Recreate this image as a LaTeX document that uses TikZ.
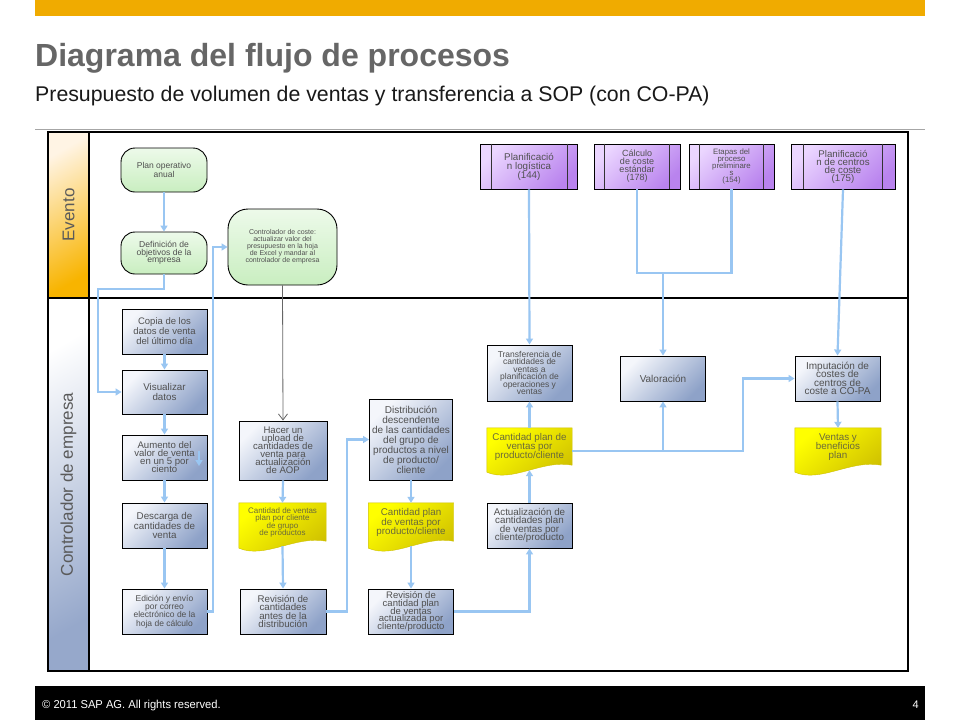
\documentclass[tikz,border=0pt]{standalone}
\usepackage{fontspec}
\setmainfont{Liberation Sans}
\usepackage{graphicx}
\usetikzlibrary{arrows.meta,calc}
\pgfdeclarelayer{bg}
\pgfsetlayers{bg,main}
\definecolor{sapor}{HTML}{F0AB00}
\definecolor{flowc}{HTML}{99C6F2}
\definecolor{txt}{HTML}{505050}
\definecolor{procL}{HTML}{F4F6FB}
\definecolor{procD}{HTML}{8EA2C8}
\definecolor{grL}{HTML}{EDFAEA}
\definecolor{grD}{HTML}{C9EEC0}
\definecolor{puL}{HTML}{EBD6FF}
\definecolor{puD}{HTML}{B983EE}
\definecolor{puS}{HTML}{C89CF2}
\definecolor{yeL}{HTML}{FFFF00}
\definecolor{yeD}{HTML}{CFC000}
\definecolor{docT}{HTML}{6A6A3A}
\definecolor{evL}{HTML}{FFF4E4}
\definecolor{evD}{HTML}{F8B400}
\definecolor{ctL}{HTML}{FFFFFF}
\definecolor{ctD}{HTML}{96A8CB}
\definecolor{lanetxt}{HTML}{5A5A5A}
\definecolor{titgray}{HTML}{666666}
\tikzset{
  every node/.append style={execute at begin node={\lineskiplimit=-20pt\lineskip=0pt}},
  box/.style 2 args={minimum width=#1pt,minimum height=#2pt,inner sep=0pt,align=center},
  proc/.style={draw=black,line width=0.9pt,top color=procL,bottom color=procD,shading angle=45,text=txt},
  ev/.style={draw=black,line width=0.9pt,rounded corners=14pt,top color=grL,bottom color=grD,text=txt},
  pp/.style={draw=black,line width=0.9pt,top color=puL,bottom color=puD,shading angle=45,text=txt},
  doc/.style={text=docT},
  docfill/.style={top color=yeL,bottom color=yeD,shading angle=40,draw=yeD,line width=0.4pt},
  flow/.style={draw=flowc,line width=2.2pt,-{Triangle[width=7pt,length=6pt]}},
  flowl/.style={draw=flowc,line width=2.2pt},
  garr/.style={draw=gray!80!black,line width=0.8pt,-{Straight Barb[width=9pt,length=6pt]}},
  frame/.style={draw=black,line width=2pt},
}
\newcommand\docshape[1]{%
  \begin{pgfonlayer}{bg}
  \path[docfill] (#1.north west) -- (#1.north east) -- ($(#1.south east)+(0,1pt)$)
    .. controls ($(#1.south west)!0.65!(#1.south east)+(0,7pt)$) and ($(#1.south west)!0.3!(#1.south east)+(0,-17pt)$)
    .. ($(#1.south west)+(0,-6pt)$) -- cycle;
  \end{pgfonlayer}}
\newcommand\ppl[2]{%
  \begin{pgfonlayer}{bg}
  \fill[puS] (#1.north west) rectangle ([xshift=#2pt]#1.south west);
  \fill[puS] (#1.north east) rectangle ([xshift=-#2pt]#1.south east);
  \end{pgfonlayer}
  \draw[line width=0.8pt,black!80] ([xshift=#2pt]#1.north west) -- ([xshift=#2pt]#1.south west);
  \draw[line width=0.8pt,black!80] ([xshift=-#2pt]#1.north east) -- ([xshift=-#2pt]#1.south east);}
\begin{document}
\begin{tikzpicture}[x=1pt,y=-1pt]
\useasboundingbox (0,0) rectangle (960,720);
\begin{pgfonlayer}{bg}
\fill[white] (0,0) rectangle (960,720);
\end{pgfonlayer}
% header
\fill[sapor] (35,0) rectangle (925,16);
\node[anchor=base west,inner sep=0pt,font=\fontsize{32}{32}\selectfont\bfseries,text=titgray] (title) at (35,66) {Diagrama del flujo de procesos};
\node[anchor=base west,inner sep=0pt,font=\fontsize{21.3}{21.3}\selectfont,text=black!90] (sub) at (35,101) {Presupuesto de volumen de ventas y transferencia a SOP (con CO-PA)};
\draw[gray!70,line width=0.8pt] (35,129) -- (925,129);
% lanes
\path[top color=evL,bottom color=evD,shading angle=30] (48,132) rectangle (89,298);
\path[top color=ctL,bottom color=ctD,shading angle=30] (48,298) rectangle (89,671);
\draw[frame] (48,132) rectangle (908,671);
\draw[frame] (89,132) -- (89,671);
\draw[frame] (48,298) -- (908,298);
\node[rotate=90,font=\fontsize{17}{17}\selectfont,text=lanetxt] (evlbl) at (68.5,215) {Evento};
\node[rotate=90,font=\fontsize{17}{17}\selectfont,text=lanetxt] (ctlbl) at (68.5,484.5) {Controlador de empresa};
% footer
\fill[black] (35,686) rectangle (925,720);
\node[anchor=base west,inner sep=0pt,text=white,font=\fontsize{11.5}{12}\selectfont] (copy) at (42,708) {\scalebox{0.97}[1]{© 2011 SAP AG. All rights reserved.}};
\node[anchor=base east,inner sep=0pt,text=white,font=\fontsize{11}{12}\selectfont] (pg) at (919,708) {4};
% Evento lane
\node[ev,box={86}{44},font=\fontsize{8.5}{8.5}\selectfont] (plan) at (164,170) {Plan operativo\\anual};
\node[ev,box={86}{42},font=\fontsize{8.6}{7.6}\selectfont] (def) at (164,253) {Definición de\\objetivos de la\\empresa};
\node[ev,rounded corners=20pt,box={109}{76},font=\fontsize{7}{7}\selectfont] (cc) at (282.5,247) {Controlador de coste:\\actualizar valor del\\presupuesto en la hoja\\de Excel y mandar al\\controlador de empresa};
\node[pp,box={97}{45},font=\fontsize{9.8}{9}\selectfont] (p1) at (529,166.5) {Planificació\\n logística\\(144)};
\node[pp,box={86}{45},font=\fontsize{9}{8}\selectfont] (p2) at (637,166.5) {Cálculo\\de coste\\estándar\\(178)};
\node[pp,box={85}{45},font=\fontsize{7.8}{7}\selectfont] (p3) at (731.5,166.5) {Etapas del\\proceso\\preliminare\\s\\(154)};
\node[pp,box={104}{45},font=\fontsize{9.7}{8}\selectfont] (p4) at (843,166.5) {Planificació\\n de centros\\de coste\\(175)};
\ppl{p1}{11}\ppl{p2}{11}\ppl{p3}{11}\ppl{p4}{13}
% Controlador lane
\node[proc,box={85}{45},font=\fontsize{9.5}{10}\selectfont] (copia) at (164.5,331.5) {Copia de los\\datos de venta\\del último día};
\node[proc,box={85}{44},font=\fontsize{9.8}{10}\selectfont] (vis) at (164.5,392) {Visualizar\\datos};
\node[proc,box={85}{45},font=\fontsize{9.6}{8}\selectfont] (aum) at (164.5,457.5) {Aumento del\\valor de venta\\en un 5 por\\ciento};
\node[proc,box={85}{45},font=\fontsize{9.8}{9.5}\selectfont] (desc) at (164.5,525.5) {Descarga de\\cantidades de\\venta};
\node[proc,box={85}{45},font=\fontsize{8.5}{8.2}\selectfont] (edic) at (164.5,611.5) {Edición y envío\\por correo\\electrónico de la\\hoja de cálculo};
\node[proc,box={88}{59},font=\fontsize{9.6}{8}\selectfont] (hacer) at (283,450.5) {Hacer un\\upload de\\cantidades de\\venta para\\actualización\\de AOP};
\node[doc,box={87}{39},font=\fontsize{8}{7.2}\selectfont] (doc1) at (282.5,522.5) {Cantidad de ventas\\plan por cliente\\de grupo\\de productos};
\node[proc,box={86}{45},font=\fontsize{9.7}{8.5}\selectfont] (rev1) at (283,611.5) {Revisión de\\cantidades\\antes de la\\distribución};
\node[proc,box={83}{81},font=\fontsize{10}{10}\selectfont] (dist) at (411,439.5) {Distribución\\descendente\\de las cantidades\\del grupo de\\productos a nivel\\de producto/\\cliente};
\node[doc,box={85}{39},font=\fontsize{9.8}{9.3}\selectfont] (doc2) at (411,522.5) {Cantidad plan\\de ventas por\\producto/cliente};
\node[proc,box={85}{45},font=\fontsize{9.5}{7.6}\selectfont] (rev2) at (411,611.5) {Revisión de\\cantidad plan\\de ventas\\actualizada por\\cliente/producto};
\node[proc,box={85}{45},font=\fontsize{9.8}{8.2}\selectfont] (act) at (529.5,525.5) {Actualización de\\cantidades plan\\de ventas por\\cliente/producto};
\node[doc,box={85}{38},font=\fontsize{9.8}{9}\selectfont] (doc3) at (529.5,447) {Cantidad plan de\\ventas por\\producto/cliente};
\node[proc,box={85}{56},font=\fontsize{8.5}{7.4}\selectfont] (transf) at (529.5,373) {Transferencia de\\cantidades de\\ventas a\\planificación de\\operaciones y\\ventas};
\node[proc,box={85}{45},font=\fontsize{10}{10}\selectfont] (val) at (663,378.5) {Valoración};
\node[proc,box={85}{45},font=\fontsize{10}{8.4}\selectfont] (imp) at (837.5,378.5) {Imputación de\\costes de\\centros de\\coste a CO-PA};
\node[doc,box={86}{38},font=\fontsize{9.8}{9}\selectfont] (ven) at (838,447) {Ventas y\\beneficios\\plan};
\docshape{doc1}\docshape{doc2}\docshape{doc3}\docshape{ven}
% connectors
\coordinate (b1) at (98,289);
\coordinate (b2) at (213,247);
\coordinate (b3) at (347,439.5);
\coordinate (j1) at (663,273);
\coordinate (j2) at (663,451);
\coordinate (b4) at (743,378.5);
\coordinate (s1) at (199,451);
\coordinate (s2) at (199,466);
\draw[flow] (plan.south) -- (def.north);
\draw[flow] (def.south) |- (b1) |- (vis.west);
\draw[flow] (copia.south) -- (vis.north);
\draw[flow] (vis.south) -- (aum.north);
\draw[flow] (aum.south) -- (desc.north);
\draw[flow] (desc.south) -- (edic.north);
\draw[flow] (s1) -- (s2);
\draw[flow] (edic.east) -| (b2) -- (cc.west);
\draw[garr] (cc.south) -- (hacer.north);
\draw[flow] (hacer.south) -- (doc1.north);
\draw[flow] ([yshift=-4pt]doc1.south) -- (rev1.north);
\draw[flow] (rev1.east) -| (b3) -- (dist.west);
\draw[flow] (dist.south) -- (doc2.north);
\draw[flow] ([yshift=-4pt]doc2.south) -- (rev2.north);
\draw[flow] (rev2.east) -| (act.south);
\draw[flow] (act.north) -- ([yshift=-4pt]doc3.south);
\draw[flow] (doc3.north) -- (transf.south);
\draw[flow] (p1.south) -- (transf.north);
\draw[flowl] (p2.south) |- (j1);
\draw[flowl] (p3.south) |- (j1);
\draw[flow] (j1) -- (val.north);
\draw[flowl] ([yshift=-4pt]doc3.east) -- (j2);
\draw[flow] (j2) -- (val.south);
\draw[flow] (j2) -| (b4) -- (imp.west);
\draw[flow] (p4.south) -- (imp.north);
\draw[flow] (imp.south) -- (ven.north);
\end{tikzpicture}
\end{document}
